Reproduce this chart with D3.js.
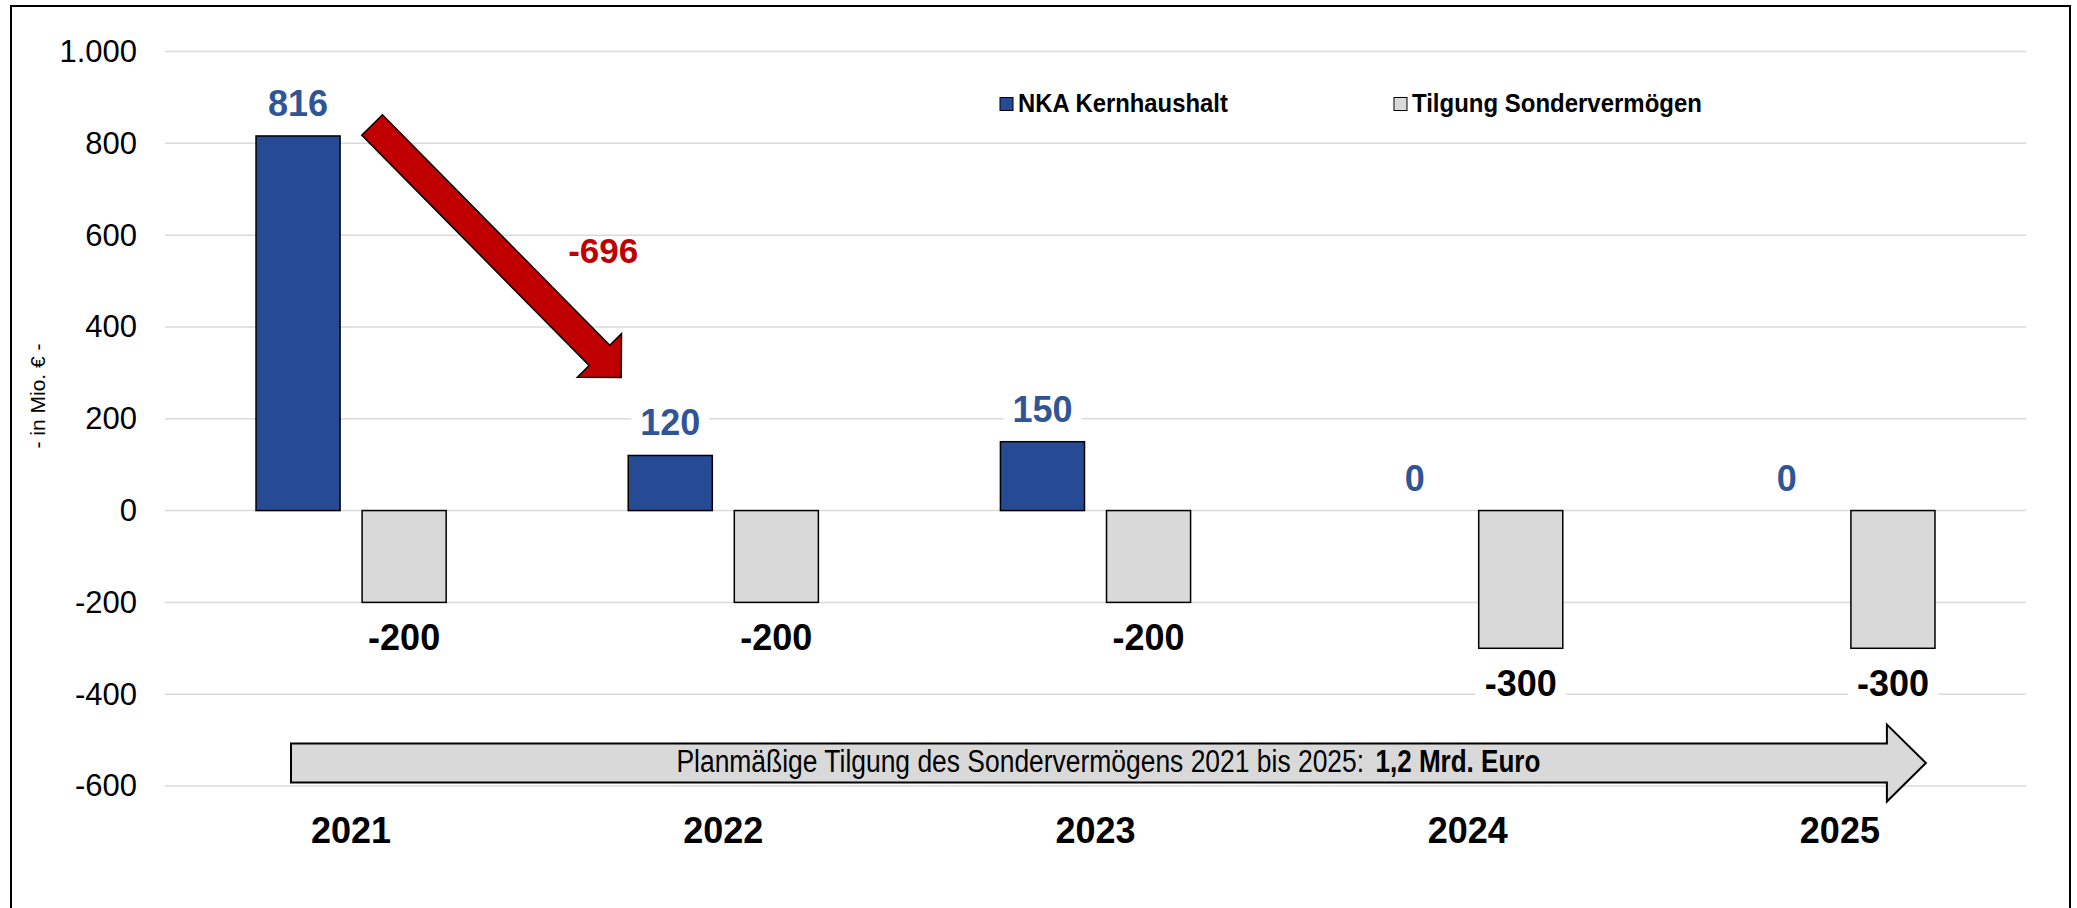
<!DOCTYPE html>
<html>
<head>
<meta charset="utf-8">
<script src="https://cdn.jsdelivr.net/npm/d3@7"></script>
<style>
  body { margin: 0; background: #fff; }
  text { font-family: "Liberation Sans", Arial, sans-serif; }
  .narrow { font-family: "Liberation Sans Narrow", "Arial Narrow", "Liberation Sans", Arial, sans-serif; }
</style>
</head>
<body>
<script>
// chart data
const years = ["2021", "2022", "2023", "2024", "2025"];
const nka = [816, 120, 150, 0, 0];               // NKA Kernhaushalt
const tilgung = [-200, -200, -200, -300, -300];  // Tilgung Sondervermögen
const seriesNames = ["NKA Kernhaushalt", "Tilgung Sondervermögen"];
const yTicks = [-600, -400, -200, 0, 200, 400, 600, 800, 1000];
const yTitle = "- in Mio. € -";
const bandText = "Planmäßige Tilgung des Sondervermögens 2021 bis 2025:";
const bandBold = "1,2 Mrd. Euro";

const width = 2077;
const height = 908;
const margin = { left: 165, right: 51, top: 51.5, bottom: 122 };

const blue = "#264a94";
const blueText = "#2f5597";
const grey = "#d9d9d9";
const red = "#c00000";

const de = d3.formatLocale({
  decimal: ",", thousands: ".", grouping: [3], currency: ["", " €"], minus: "-"
});
const fmt = de.format(",");

const svg = d3.create("svg")
  .attr("width", width)
  .attr("height", height)
  .attr("viewBox", [0, 0, width, height]);
document.body.appendChild(svg.node());

// condensed text: squeeze horizontally to a given width (no narrow font installed)
function narrowText(parent, x, y, str, size, weight, targetW) {
  const g = parent.append("g");
  const t = g.append("text")
    .attr("class", "narrow")
    .attr("font-size", size)
    .attr("font-weight", weight)
    .text(str);
  const k = targetW / t.node().getComputedTextLength();
  g.attr("transform", `translate(${x},${y}) scale(${k},1)`);
  return g;
}

const x0 = d3.scaleBand()
  .domain(years)
  .range([margin.left, width - margin.right])
  .padding(0);

const x1 = d3.scaleBand()
  .domain(seriesNames)
  .range([0, x0.bandwidth()])
  .paddingInner(0.2075)
  .paddingOuter(0.858);

const y = d3.scaleLinear()
  .domain([-600, 1000])
  .range([height - margin.bottom, margin.top]);

// outer frame
svg.append("rect")
  .attr("x", 11).attr("y", 6)
  .attr("width", 2059).attr("height", 930)
  .attr("fill", "none")
  .attr("stroke", "#000")
  .attr("stroke-width", 2);

// gridlines
svg.append("g")
  .selectAll("line")
  .data(yTicks)
  .join("line")
  .attr("x1", margin.left)
  .attr("x2", width - margin.right)
  .attr("y1", d => y(d))
  .attr("y2", d => y(d))
  .attr("stroke", grey)
  .attr("stroke-width", 1.5);

// y axis labels
const yAxis = svg.append("g")
  .attr("transform", `translate(${margin.left},0)`)
  .call(d3.axisLeft(y).tickValues(yTicks).tickFormat(fmt).tickSize(0).tickPadding(28));
yAxis.select(".domain").remove();
yAxis.selectAll("text")
  .attr("font-family", "Liberation Sans, Arial, sans-serif")
  .attr("font-size", 31)
  .attr("fill", "#000");

svg.append("text")
  .attr("transform", `translate(45,396) rotate(-90)`)
  .attr("text-anchor", "middle")
  .attr("font-size", 21)
  .text(yTitle);

// bottom band arrow (planned repayment)
{
  const xl = x0(years[0]) + 126;
  const xt = x0(years[years.length - 1]) + x0.bandwidth() / 2 + 86;
  const yc = y(-550);
  const sh = 19.5, hh = 38.5, hl = 39;
  const pts = [
    [xl, yc - sh], [xt - hl, yc - sh], [xt - hl, yc - hh], [xt, yc],
    [xt - hl, yc + hh], [xt - hl, yc + sh], [xl, yc + sh]
  ];
  svg.append("polygon")
    .attr("points", pts.map(p => p.join(",")).join(" "))
    .attr("fill", grey)
    .attr("stroke", "#000")
    .attr("stroke-width", 2);
  const cx = (xl + xt) / 2;
  narrowText(svg, cx - 432, yc + 9, bandText, 31, "normal", 688);
  narrowText(svg, cx + 267, yc + 9, bandBold, 31, "bold", 165);
}

// bars
const groups = svg.append("g")
  .selectAll("g")
  .data(years.map((yr, i) => ({ yr, values: [nka[i], tilgung[i]] })))
  .join("g")
  .attr("transform", d => `translate(${x0(d.yr)},0)`);

groups.selectAll("rect")
  .data(d => d.values.map((v, j) => ({ v, s: seriesNames[j] })))
  .join("rect")
  .filter(d => d.v !== 0)
  .attr("x", d => x1(d.s))
  .attr("width", x1.bandwidth())
  .attr("y", d => y(Math.max(0, d.v)))
  .attr("height", d => Math.abs(y(d.v) - y(0)))
  .attr("fill", d => d.s === seriesNames[0] ? blue : grey)
  .attr("stroke", "#000")
  .attr("stroke-width", 1.5);

// data labels with white box behind them
groups.each(function (d) {
  const g = d3.select(this);
  d.values.forEach((v, j) => {
    const s = seriesNames[j];
    const cx = x1(s) + x1.bandwidth() / 2;
    const base = j === 0 ? y(Math.max(0, v)) - 20 : y(v) + 48;
    const box = g.append("rect").attr("fill", "#fff");
    const t = g.append("text")
      .attr("x", cx)
      .attr("y", base)
      .attr("text-anchor", "middle")
      .attr("font-size", 36)
      .attr("font-weight", "bold")
      .attr("fill", j === 0 ? blueText : "#000")
      .text(fmt(v));
    const w = t.node().getComputedTextLength();
    box.attr("x", cx - w / 2 - 9)
      .attr("width", w + 18)
      .attr("y", base - 34)
      .attr("height", 44);
  });
});

// year labels
svg.append("g")
  .selectAll("text")
  .data(years)
  .join("text")
  .attr("x", d => x0(d) + x0.bandwidth() / 2)
  .attr("y", 843)
  .attr("text-anchor", "middle")
  .attr("font-size", 36)
  .attr("font-weight", "bold")
  .text(d => d);

// red change arrow between 2021 and 2022
{
  const A = [x0(years[0]) + x1(seriesNames[0]) + x1.bandwidth() + 32, y(840)];
  const T = [x0(years[1]) + x1(seriesNames[0]) - 7, y(290)];
  const dx = T[0] - A[0], dy = T[1] - A[1];
  const L = Math.hypot(dx, dy);
  const u = [dx / L, dy / L], n = [-u[1], u[0]];
  const sw = 14.5, hw = 31, hl = 31;
  const B = [T[0] - u[0] * hl, T[1] - u[1] * hl];
  const P = (p, k) => [p[0] + n[0] * k, p[1] + n[1] * k];
  const pts = [P(A, sw), P(B, sw), P(B, hw), T, P(B, -hw), P(B, -sw), P(A, -sw)];
  svg.append("polygon")
    .attr("points", pts.map(p => p.join(",")).join(" "))
    .attr("fill", red)
    .attr("stroke", "#000")
    .attr("stroke-width", 1.5);
  svg.append("text")
    .attr("x", x0(years[1]) + 66)
    .attr("y", y(540))
    .attr("text-anchor", "middle")
    .attr("font-size", 35)
    .attr("font-weight", "bold")
    .attr("fill", red)
    .text(fmt(nka[1] - nka[0]));
}

// legend
const legend = svg.append("g");
const legendX = [1000, 1394];
const legendLen = [210, 290];
seriesNames.forEach((s, i) => {
  legend.append("rect")
    .attr("x", legendX[i]).attr("y", 97.5)
    .attr("width", 13).attr("height", 13)
    .attr("fill", i === 0 ? blue : grey)
    .attr("stroke", "#000")
    .attr("stroke-width", 1);
  narrowText(legend, legendX[i] + 18, 112, s, 26, "bold", legendLen[i]);
});
</script>
</body>
</html>
